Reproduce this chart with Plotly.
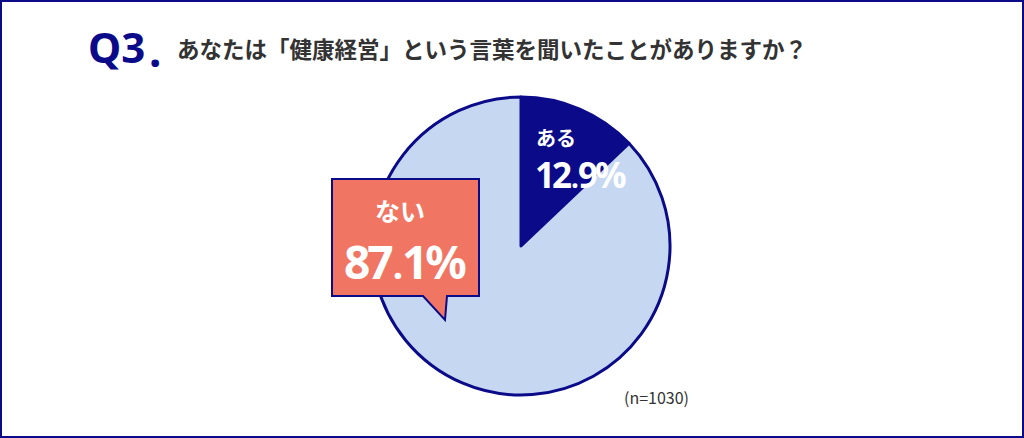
import plotly.graph_objects as go

labels = ["ある", "ない"]
values = [12.9, 87.1]
colors = ["#0B0B8A", "#C6D8F1"]
question_no = "Q3"
question = "あなたは「健康経営」という言葉を聞いたことがありますか？"
sample_note = "(n=1030)"

W, H = 1024, 438
NAVY = "#0B0B8A"
FONT = "Noto Sans CJK JP"
NUMFONT = "Noto Sans"

def px(x):
    return x / W

def py(y):
    return 1 - y / H

fig = go.Figure()
fig.add_trace(go.Pie(
    labels=labels, values=values, sort=False, direction="clockwise", rotation=0,
    marker=dict(colors=colors, line=dict(color=NAVY, width=3)),
    textinfo="none", hoverinfo="label+percent", showlegend=False,
    domain=dict(x=[px(521 - 149), px(521 + 149)], y=[py(246 + 149), py(246 - 149)]),
))

shapes = [
    dict(type="rect", xref="paper", yref="paper", x0=px(1), x1=px(1023), y0=py(437), y1=py(1),
         line=dict(color=NAVY, width=2), fillcolor="rgba(0,0,0,0)"),
    # callout box
    dict(type="path", xref="paper", yref="paper",
         path=(f"M {px(332)},{py(179)} L {px(479)},{py(179)} L {px(479)},{py(296)} "
               f"L {px(447)},{py(296)} L {px(445)},{py(320)} L {px(423)},{py(296)} "
               f"L {px(332)},{py(296)} Z"),
         fillcolor="#F07663", line=dict(color=NAVY, width=2)),
]

def fmt(v, ls):
    s = f"{v:.1f}"
    a, b = s.split(".")
    return (f"<span style='letter-spacing:{ls}px'>{a[:-1]}</span>"
            f"<span style='letter-spacing:-1px'>{a[-1]}</span>"
            f"<span style='font-size:0.8em;letter-spacing:-1px'>.</span>"
            f"<span style='letter-spacing:{ls}px'>{b}%</span>")

annotations = [
    dict(x=px(86), y=py(46), text=f"<b>{question_no}</b>", showarrow=False, xanchor="left", yanchor="middle",
         font=dict(family="Noto Sans", size=42, color=NAVY)),
    dict(x=px(147), y=py(50), text="<b>.</b>", showarrow=False, xanchor="left", yanchor="middle",
         font=dict(family="Noto Sans", size=44, color=NAVY)),
    dict(x=px(175), y=py(48), text=f"<b>{question}</b>", showarrow=False, xanchor="left", yanchor="middle",
         font=dict(family=FONT, size=22.5, color="#333333")),
    dict(x=px(556), y=py(137), text=f"<b>{labels[0]}</b>", showarrow=False, xanchor="center", yanchor="middle",
         font=dict(family=FONT, size=20, color="white")),
    dict(x=px(580), y=py(174), text=f"<b>{fmt(values[0], -3)}</b>", showarrow=False, xanchor="center", yanchor="middle",
         font=dict(family=NUMFONT, size=35, color="white")),
    dict(x=px(400), y=py(210), text=f"<b>{labels[1]}</b>", showarrow=False, xanchor="center", yanchor="middle",
         font=dict(family=FONT, size=25, color="white")),
    dict(x=px(405), y=py(261), text=f"<b>{fmt(values[1], -3)}</b>", showarrow=False, xanchor="center", yanchor="middle",
         font=dict(family=NUMFONT, size=46, color="white")),
    dict(x=px(656), y=py(397), text=sample_note, showarrow=False, xanchor="center", yanchor="middle",
         font=dict(family=FONT, size=16, color="#333333")),
]

fig.update_layout(
    width=W, height=H, margin=dict(l=0, r=0, t=0, b=0),
    paper_bgcolor="white", plot_bgcolor="white",
    shapes=shapes, annotations=annotations,
)
fig.write_html("out.html", config={"displayModeBar": False},
               post_script="document.body.style.margin='0';document.body.style.overflow='hidden';")
